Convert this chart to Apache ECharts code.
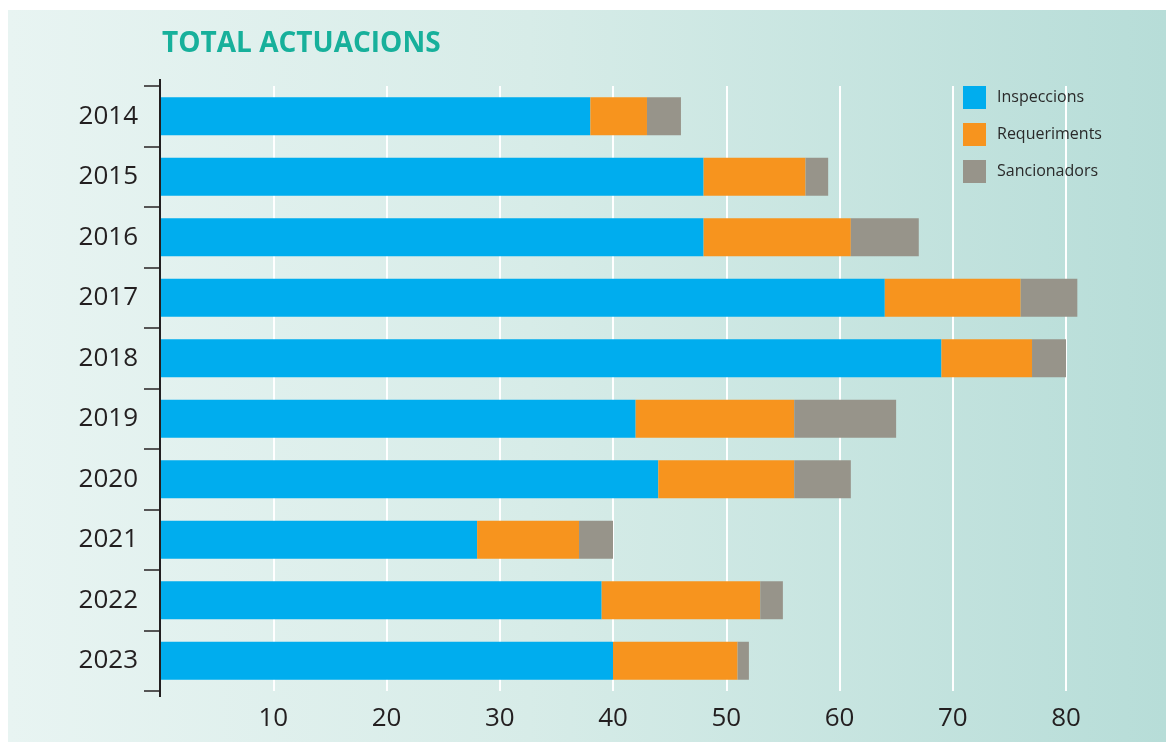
<!DOCTYPE html>
<html>
<head>
<meta charset="utf-8">
<script src="https://cdn.jsdelivr.net/npm/echarts@6/dist/echarts.min.js"></script>
<style>
html,body{margin:0;padding:0;background:#ffffff;}
#bg{position:absolute;left:8px;top:10px;width:1158px;height:732px;background:linear-gradient(to right,#e8f4f2 0%,#d7ece8 45%,#b7ddd8 100%);}
#main{position:absolute;left:0;top:0;width:1166px;height:742px;}
</style>
</head>
<body>
<div id="bg"></div>
<div id="main"></div>
<script>
const years = ['2014','2015','2016','2017','2018','2019','2020','2021','2022','2023'];
const inspeccions = [38, 48, 48, 64, 69, 42, 44, 28, 39, 40];
const requeriments = [5, 9, 13, 12, 8, 14, 12, 9, 14, 11];
const sancionadors = [3, 2, 6, 5, 3, 9, 5, 3, 2, 1];
const xTicks = [10, 20, 30, 40, 50, 60, 70, 80];
const seriesNames = ['Inspeccions', 'Requeriments', 'Sancionadors'];
const colors = ['#00adee', '#f7941e', '#97948a'];

const chart = echarts.init(document.getElementById('main'), null, {renderer:'canvas'});
const font = "'Open Sans', sans-serif";
const values = [inspeccions, requeriments, sancionadors];
chart.setOption({
  backgroundColor: 'transparent',
  animation: false,
  color: colors,
  title: {
    text: 'TOTAL ACTUACIONS',
    left: 157, top: 25,
    textStyle: {fontFamily: font, fontWeight: 'bold', fontSize: 28, color: '#17b09b'}
  },
  legend: {
    orient: 'vertical',
    left: 963, top: 86, padding: 0,
    itemWidth: 23, itemHeight: 23, itemGap: 14,
    icon: 'rect',
    data: seriesNames,
    textStyle: {fontFamily: font, fontSize: 16, color: '#2a2a2a', padding: [0,0,0,6]}
  },
  grid: {left: 160, right: 100, top: 86, bottom: 51, containLabel: false},
  xAxis: {
    type: 'value', min: 0, max: 80, interval: 10,
    axisLine: {show: false}, axisTick: {show: false},
    axisLabel: {
      fontFamily: font, fontSize: 26, color: '#231f20', margin: 15,
      formatter: v => xTicks.includes(v) ? String(v) : ''
    },
    splitLine: {show: true, lineStyle: {color: '#ffffff', width: 2}}
  },
  yAxis: {
    type: 'category', data: years, inverse: true,
    axisLine: {show: false},
    axisTick: {show: true, length: 16, lineStyle: {color: '#555555', width: 2}},
    axisLabel: {fontFamily: font, fontSize: 26, color: '#231f20', margin: 22}
  },
  graphic: [{
    type: 'line', z: 100,
    shape: {x1: 160, y1: 79, x2: 160, y2: 697},
    style: {stroke: '#231f20', lineWidth: 2}
  }],
  series: seriesNames.map((n, i) => ({
    name: n, type: 'bar', stack: 'total', barWidth: 38, clip: false,
    data: values[i], itemStyle: {color: colors[i]}
  }))
});
</script>
</body>
</html>
